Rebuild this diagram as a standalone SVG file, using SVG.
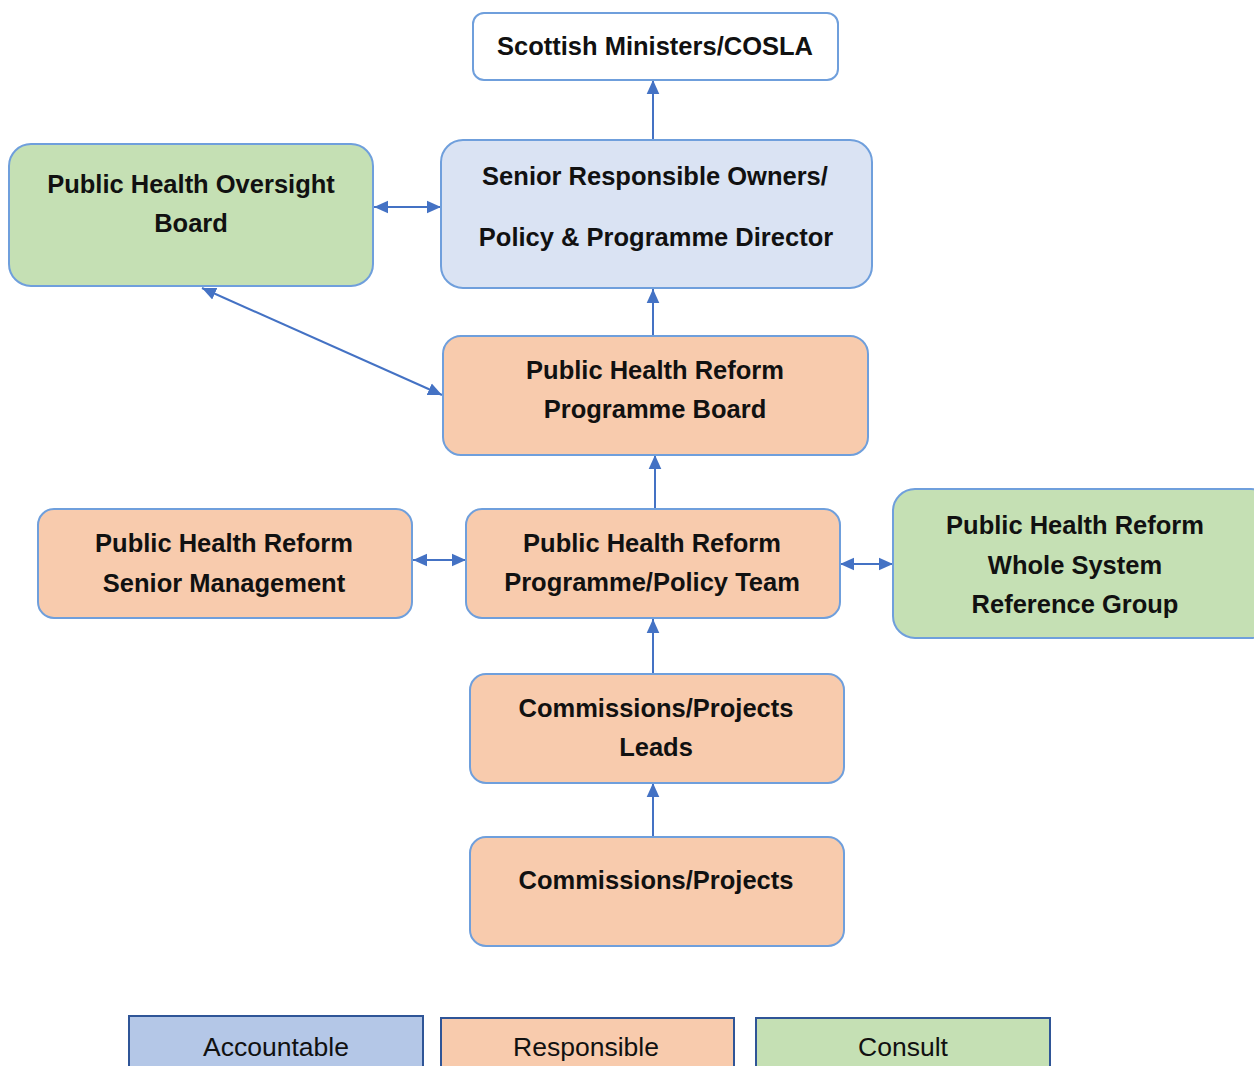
<svg xmlns="http://www.w3.org/2000/svg" width="1254" height="1066" viewBox="0 0 1254 1066">
<defs>
<marker id="ah" viewBox="0 0 10 10" refX="10" refY="5" markerWidth="14" markerHeight="14" orient="auto-start-reverse" markerUnits="userSpaceOnUse">
<path d="M0,0.5 L10,5 L0,9.5 z" fill="#4472c4"/>
</marker>
<style>
.n{stroke:#6f9fdc;stroke-width:2}
.w{fill:#ffffff}.b{fill:#dae3f3}.g{fill:#c5e0b4}.o{fill:#f8cbad}
.t{font-family:"Liberation Sans",Arial,sans-serif;font-weight:bold;font-size:25.5px;fill:#111;text-anchor:middle}
.l{font-family:"Liberation Sans",Arial,sans-serif;font-size:26.5px;fill:#111;text-anchor:middle}
.c{stroke:#4472c4;stroke-width:2;fill:none}
.lg{stroke:#2f5597;stroke-width:2}
</style>
</defs>
<rect width="1254" height="1066" fill="#ffffff"/>
<g id="connectors">
<line class="c" x1="653" y1="140" x2="653" y2="80" marker-end="url(#ah)"/>
<line class="c" x1="374" y1="207" x2="441" y2="207" marker-start="url(#ah)" marker-end="url(#ah)"/>
<line class="c" x1="653" y1="336" x2="653" y2="289" marker-end="url(#ah)"/>
<line class="c" x1="202" y1="288" x2="442" y2="395" marker-start="url(#ah)" marker-end="url(#ah)"/>
<line class="c" x1="655" y1="509" x2="655" y2="455" marker-end="url(#ah)"/>
<line class="c" x1="413" y1="560" x2="466" y2="560" marker-start="url(#ah)" marker-end="url(#ah)"/>
<line class="c" x1="840" y1="564" x2="893" y2="564" marker-start="url(#ah)" marker-end="url(#ah)"/>
<line class="c" x1="653" y1="674" x2="653" y2="619" marker-end="url(#ah)"/>
<line class="c" x1="653" y1="837" x2="653" y2="783" marker-end="url(#ah)"/>
</g>
<g id="scottish-ministers">
<rect class="n w" x="473" y="13" width="365" height="67" rx="11"/>
<text class="t" x="655" y="55">Scottish Ministers/COSLA</text>
</g>
<g id="senior-responsible-owners">
<rect class="n b" x="441" y="140" width="431" height="148" rx="22"/>
<text class="t" x="655" y="185">Senior Responsible Owners/</text>
<text class="t" x="656" y="246">Policy &amp; Programme Director</text>
</g>
<g id="oversight-board">
<rect class="n g" x="9" y="144" width="364" height="142" rx="22"/>
<text class="t" x="191" y="193">Public Health Oversight</text>
<text class="t" x="191" y="232">Board</text>
</g>
<g id="programme-board">
<rect class="n o" x="443" y="336" width="425" height="119" rx="18"/>
<text class="t" x="655" y="379">Public Health Reform</text>
<text class="t" x="655" y="418">Programme Board</text>
</g>
<g id="senior-management">
<rect class="n o" x="38" y="509" width="374" height="109" rx="16"/>
<text class="t" x="224" y="552">Public Health Reform</text>
<text class="t" x="224" y="592">Senior Management</text>
</g>
<g id="policy-team">
<rect class="n o" x="466" y="509" width="374" height="109" rx="16"/>
<text class="t" x="652" y="552">Public Health Reform</text>
<text class="t" x="652" y="591">Programme/Policy Team</text>
</g>
<g id="reference-group">
<rect class="n g" x="893" y="489" width="380" height="149" rx="22"/>
<text class="t" x="1075" y="534">Public Health Reform</text>
<text class="t" x="1075" y="574">Whole System</text>
<text class="t" x="1075" y="613">Reference Group</text>
</g>
<g id="project-leads">
<rect class="n o" x="470" y="674" width="374" height="109" rx="16"/>
<text class="t" x="656" y="717">Commissions/Projects</text>
<text class="t" x="656" y="756">Leads</text>
</g>
<g id="projects">
<rect class="n o" x="470" y="837" width="374" height="109" rx="16"/>
<text class="t" x="656" y="889">Commissions/Projects</text>
</g>
<g id="legend">
<rect class="lg" x="129" y="1016" width="294" height="60" fill="#b4c7e7"/>
<text class="l" x="276" y="1056">Accountable</text>
<rect class="lg" x="441" y="1018" width="293" height="60" fill="#f8cbad"/>
<text class="l" x="586" y="1056">Responsible</text>
<rect class="lg" x="756" y="1018" width="294" height="60" fill="#c5e0b4"/>
<text class="l" x="903" y="1056">Consult</text>
</g>
</svg>
